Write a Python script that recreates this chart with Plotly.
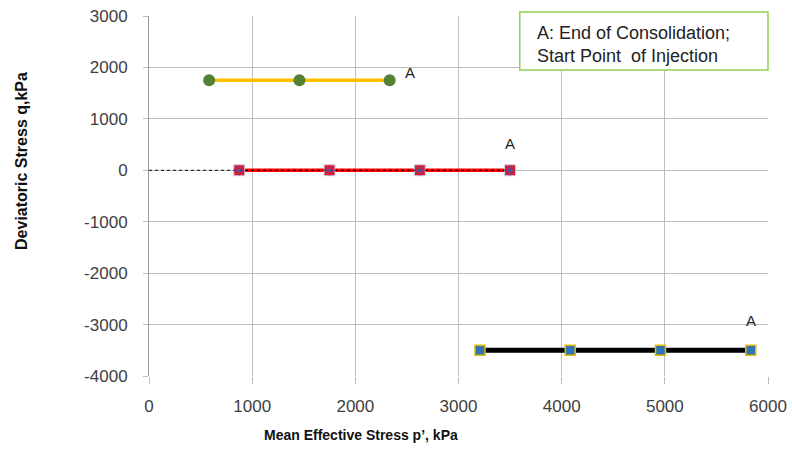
import plotly.graph_objects as go

# Stress paths in p'-q space (kPa)
p_upper = [583, 1458, 2333]
q_upper = [1750, 1750, 1750]

p_iso = [875, 1750, 2625, 3500]
q_iso = [0, 0, 0, 0]

p_lower = [3208, 4083, 4958, 5833]
q_lower = [-3500, -3500, -3500, -3500]

# reference line along q = 0
p_ref = [0, 3500]
q_ref = [0, 0]

# "A" label positions
a_p = [2530, 3500, 5840]
a_q = [1900, 520, -2920]

x_ticks = [0, 1000, 2000, 3000, 4000, 5000, 6000]
y_ticks = [3000, 2000, 1000, 0, -1000, -2000, -3000, -4000]
y_labels = ["3000", "2000", "1000", "0", "-1000", "-2000", "-3000", "-4000"]

FONT = "Liberation Sans"
GRID = "#bdbdbd"
TICKC = "#404040"

fig = go.Figure()

fig.add_trace(go.Scatter(
    x=p_upper, y=q_upper, mode="lines+markers",
    line=dict(color="#FFC000", width=3.5),
    marker=dict(symbol="circle", size=12, color="#548235"),
    showlegend=False))

fig.add_trace(go.Scatter(
    x=p_iso, y=q_iso, mode="lines+markers",
    line=dict(color="#FF0000", width=3.5),
    marker=dict(symbol="square", size=11, color="#EE1122",
                line=dict(color="#C9D7F0", width=1)),
    showlegend=False))

fig.add_trace(go.Scatter(
    x=p_ref, y=q_ref, mode="lines",
    line=dict(color="#000000", width=1, dash="dot"),
    showlegend=False))

fig.add_trace(go.Scatter(
    x=p_iso, y=q_iso, mode="markers",
    marker=dict(symbol="asterisk-open", size=9, color="#3A5FAF",
                line=dict(color="#3A5FAF", width=1)),
    showlegend=False))

fig.add_trace(go.Scatter(
    x=p_lower, y=q_lower, mode="lines+markers",
    line=dict(color="#000000", width=5),
    marker=dict(symbol="square", size=10, color="#2E75B6",
                line=dict(color="#E5B80B", width=1.5)),
    showlegend=False))

for xp, yq in zip(a_p, a_q):
    fig.add_annotation(x=xp, y=yq, text="A", showarrow=False,
                       font=dict(family=FONT, size=15, color="#222222"))

# explanatory text box
fig.add_shape(type="rect", xref="paper", yref="paper",
              x0=0.599, x1=1.0, y0=0.850, y1=1.011,
              line=dict(color="#92D050", width=1.5), fillcolor="white", layer="above")
fig.add_annotation(
    xref="paper", yref="paper", x=0.624, y=0.922, xanchor="left", yanchor="middle",
    text="A: End of Consolidation;<br>Start Point  of Injection",
    showarrow=False, align="left",
    font=dict(family=FONT, size=18, color="#222222"))

# axis titles
fig.add_annotation(
    xref="paper", yref="paper", x=0.343, y=-0.165, xanchor="center", yanchor="middle",
    text="<b>Mean Effective Stress p\u2019, kPa</b>", showarrow=False,
    font=dict(family=FONT, size=14, color="#111111"))
fig.add_annotation(
    xref="paper", yref="paper", x=-0.207, y=0.597, xanchor="center", yanchor="middle",
    text="<b>Deviatoric Stress q,kPa</b>", showarrow=False, textangle=-90,
    font=dict(family=FONT, size=16, color="#111111"))

fig.update_layout(
    width=792, height=455,
    margin=dict(l=149, r=24, t=16, b=79, autoexpand=False),
    paper_bgcolor="white", plot_bgcolor="white",
    font=dict(family=FONT, size=17, color=TICKC),
    xaxis=dict(range=[0, 6000], tickvals=x_ticks, showgrid=True, gridcolor=GRID,
               gridwidth=1, zeroline=False, showline=False, automargin=False,
               ticks="outside", ticklen=7, tickcolor=GRID, ticklabelstandoff=8),
    yaxis=dict(range=[-4000, 3000], tickvals=y_ticks, ticktext=y_labels,
               showgrid=True, gridcolor=GRID, automargin=False,
               gridwidth=1, zeroline=False, showline=True, linecolor="#999999",
               ticks="outside", ticklen=5, tickcolor=GRID, ticklabelstandoff=12),
)

fig.write_html("out.html")
